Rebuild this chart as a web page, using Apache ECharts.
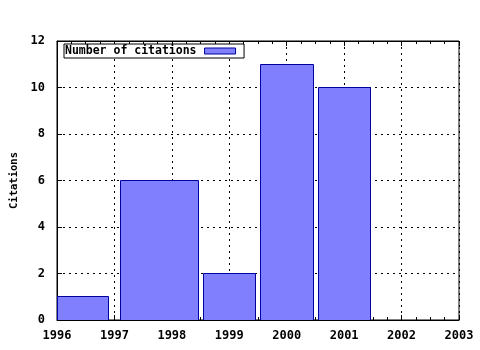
<!DOCTYPE html>
<html><head><meta charset="utf-8">
<script src="https://cdn.jsdelivr.net/npm/echarts@6/dist/echarts.min.js"></script>
<style>html,body{margin:0;padding:0;background:#fff}#c{width:480px;height:350px}</style>
</head><body><div id="c"></div>
<script>
// Box extents (in years) and values
const boxStart = [1995.1, 1997.1, 1998.55, 1999.55, 2000.55];
const boxEnd = [1996.9, 1998.47, 1999.45, 2000.46, 2001.46];
const citations = [1, 6, 2, 11, 10];
const xTicks = [1996, 1997, 1998, 1999, 2000, 2001, 2002, 2003];
const yTicks = [0, 2, 4, 6, 8, 10, 12];
const seriesName = 'Number of citations';
const yName = 'Citations';

const data = citations.map((v, i) => [boxStart[i], boxEnd[i], v]);

const FONT = '"DejaVu Sans Mono", monospace';
const lbl = { color: '#000', fontFamily: FONT, fontWeight: 'bold', fontSize: 12 };
const snap = v => Math.floor(v) + 0.5;
const chart = echarts.init(document.getElementById('c'));
chart.setOption({
  animation: false,
  backgroundColor: '#fff',
  grid: { left: 57, right: 21, top: 41, bottom: 30, outerBoundsMode: 'none', containLabel: false, show: true, borderColor: '#000', borderWidth: 1, backgroundColor: 'transparent' },
  legend: {
    left: 64, top: 44, z: 10,
    orient: 'horizontal',
    align: 'right',
    data: [{ name: seriesName, icon: 'rect', itemStyle: { color: '#8080ff', borderColor: '#0000a0', borderWidth: 1 } }],
    itemWidth: 31, itemHeight: 6,
    backgroundColor: '#fff',
    borderColor: '#000', borderWidth: 1, padding: [1, 8, 1, 1],
    textStyle: Object.assign({}, lbl, { fontSize: 11.5, padding: [0, 3, 0, 0] }),
    selectedMode: false
  },
  xAxis: [{
    type: 'value', min: xTicks[0], max: xTicks[xTicks.length - 1], interval: 1,
    axisLine: { show: true, lineStyle: { color: '#000' } },
    axisTick: { show: true, inside: true, length: 5, lineStyle: { color: '#000' } },
    minorTick: { show: true, splitNumber: 4, length: 3, lineStyle: { color: '#000' } },
    axisLabel: Object.assign({ margin: 10, formatter: v => String(v) }, lbl),
    splitLine: { show: true, lineStyle: { color: '#000', type: [2, 4], width: 1 } }
  }, {
    type: 'value', position: 'top', min: xTicks[0], max: xTicks[xTicks.length - 1], interval: 1,
    axisLine: { show: true, lineStyle: { color: '#000' } },
    axisTick: { show: true, inside: true, length: 5, lineStyle: { color: '#000' } },
    minorTick: { show: true, splitNumber: 4, length: 3, lineStyle: { color: '#000' } },
    axisLabel: { show: false },
    splitLine: { show: false }
  }],
  yAxis: [{
    type: 'value', min: yTicks[0], max: yTicks[yTicks.length - 1], interval: 2,
    name: yName, nameLocation: 'middle', nameGap: 37, nameRotate: 90,
    nameTextStyle: Object.assign({}, lbl, { fontSize: 10.5 }),
    axisLine: { show: true, lineStyle: { color: '#000' } },
    axisTick: { show: true, inside: true, length: 5, lineStyle: { color: '#000' } },
    axisLabel: Object.assign({ margin: 12 }, lbl),
    splitLine: { show: true, lineStyle: { color: '#000', type: [2, 4], width: 1 } }
  }],
  series: [{
    name: seriesName,
    type: 'custom',
    clip: true,
    z: 5,
    encode: { x: [0, 1], y: 2 },
    itemStyle: { color: '#8080ff', borderColor: '#0000a0', borderWidth: 1 },
    renderItem: function (params, api) {
      const p0 = api.coord([api.value(0), api.value(2)]);
      const p1 = api.coord([api.value(1), 0]);
      const rect = echarts.graphic.clipRectByRect(
        { x: p0[0], y: p0[1], width: p1[0] - p0[0], height: p1[1] - p0[1] },
        { x: params.coordSys.x, y: params.coordSys.y, width: params.coordSys.width, height: params.coordSys.height }
      );
      if (!rect) return null;
      const x0 = snap(rect.x), x1 = snap(rect.x + rect.width);
      const y0 = snap(rect.y), y1 = snap(rect.y + rect.height);
      return {
        type: 'rect',
        shape: { x: x0, y: y0, width: x1 - x0, height: y1 - y0 },
        style: { fill: '#8080ff', stroke: '#0000a0', lineWidth: 1 }
      };
    },
    data: data
  }]
});
</script></body></html>
